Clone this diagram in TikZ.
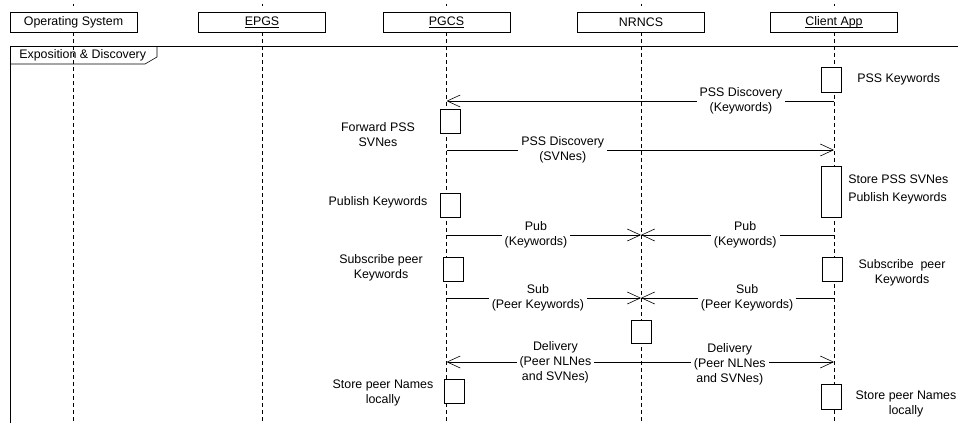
\documentclass[tikz,border=0pt]{standalone}
\usepackage{fontspec}
\setmainfont{Liberation Sans}
\usetikzlibrary{arrows.meta}

% subrayado fijo (no depende de los descendentes)
\newcommand{\undl}[1]{\setbox0\hbox{#1}\rlap{\rule[-1.8pt]{\wd0}{0.5pt}}\box0}

\begin{document}
\begin{tikzpicture}[x=1pt, y=-1pt, line width=0.6pt,
    >={Straight Barb[length=13pt, width=12pt]},
    font=\fontsize{12.4}{15}\selectfont,
    obj/.style={draw, minimum width=127pt, minimum height=20pt, inner sep=0pt},
    life/.style={dash pattern=on 4pt off 3pt},
    act/.style={draw, fill=white, minimum width=20pt, minimum height=24pt, inner sep=0pt},
    msg/.style={->},
    lbl/.style={fill=white, align=center, inner xsep=3pt, inner ysep=1pt},
    note/.style={align=center, inner sep=0pt}]

    \useasboundingbox (0,0) rectangle (958,423);

    % --- 1. OBJETOS (cabeceras) ---
    \node[obj] (hOS)    at (73.5,22)  {Operating System};
    \node[obj] (hEPGS)  at (262,22)   {\undl{EPGS}};
    \node[obj] (hPGCS)  at (446.5,22) {\undl{PGCS}};
    \node[obj] (hNRNCS) at (641,22)   {NRNCS};
    \node[obj] (hApp)   at (834,22)   {\undl{Client App}};

    % filas de mensajes
    \coordinate (bot) at (0,423);
    \coordinate (r1) at (0,101);
    \coordinate (r2) at (0,150);
    \coordinate (r3) at (0,235);
    \coordinate (r4) at (0,298);
    \coordinate (r5) at (0,362);

    % Lineas de vida
    \foreach \n in {hOS,hEPGS,hPGCS,hNRNCS,hApp} {
        \draw[life] (\n.south) -- (\n.south |- bot);
        \draw (\n.north) ++(0,-6) -- ++(0,-1.5);
    }

    % --- 2. MARCO ---
    \draw (10,423) -- (10,46) -- (958,46);
    \draw (10,64) -- (145,64) -- (157,57) -- (157,46);
    \node[anchor=west, inner sep=0pt] (frm) at (19,55.5) {Exposition \& Discovery};

    % --- 3. MENSAJES ---
    \draw[msg] (hApp |- r1) -- (hPGCS |- r1)
        node[lbl, pos=0.24] {PSS Discovery\\(Keywords)};
    \draw[msg] (hPGCS |- r2) -- (hApp |- r2)
        node[lbl, pos=0.30] {PSS Discovery\\(SVNes)};
    \draw[msg] (hPGCS |- r3) -- (hNRNCS |- r3)
        node[lbl, pos=0.46] {Pub\\(Keywords)};
    \draw[msg] (hApp |- r3) -- (hNRNCS |- r3)
        node[lbl, pos=0.46] {Pub\\(Keywords)};
    \draw[msg] (hPGCS |- r4) -- (hNRNCS |- r4)
        node[lbl, pos=0.47] {Sub\\(Peer Keywords)};
    \draw[msg] (hApp |- r4) -- (hNRNCS |- r4)
        node[lbl, pos=0.45] {Sub\\(Peer Keywords)};
    \draw[msg] (hNRNCS |- r5) -- (hPGCS |- r5)
        node[lbl, pos=0.44] {Delivery\\(Peer NLNes\\and SVNes)};
    \draw[msg] (hNRNCS |- r5) -- (hApp |- r5)
        node[lbl, pos=0.46, yshift=-2pt] {Delivery\\(Peer NLNes\\and SVNes)};

    % --- 4. ACTIVACIONES ---
    \node[act, minimum height=25pt] (a1) at (831,79.5) {};
    \node[act] (p1) at (450.5,121) {};
    \node[act, minimum height=51pt] (a2) at (831,191.5) {};
    \node[act] (p2) at (450.5,205) {};
    \node[act] (p3) at (453,269) {};
    \node[act] (a3) at (832.5,269) {};
    \node[act, minimum height=23pt] (n1) at (641.5,331.5) {};
    \node[act] (p4) at (454.5,391) {};
    \node[act, minimum height=25pt] (a4) at (831,396.5) {};

    % Notas
    \node[anchor=west, inner sep=0pt] (t1) at (857,79) {PSS Keywords};
    \node[note] (t2) at (378,134.5) {Forward PSS\\SVNes};
    \node[anchor=west, align=left, inner sep=0pt, font=\fontsize{12.4}{18}\selectfont]
        (t3) at (848,189) {Store PSS SVNes\\Publish Keywords};
    \node[note] (t4) at (378,202) {Publish Keywords};
    \node[note] (t5) at (381,267.5) {Subscribe peer\\Keywords};
    \node[note] (t6) at (902,273) {Subscribe\ \ peer\\Keywords};
    \node[note] (t7) at (383,392.5) {Store peer Names\\locally};
    \node[note] (t8) at (906,404) {Store peer Names\\locally};

\end{tikzpicture}
\end{document}
